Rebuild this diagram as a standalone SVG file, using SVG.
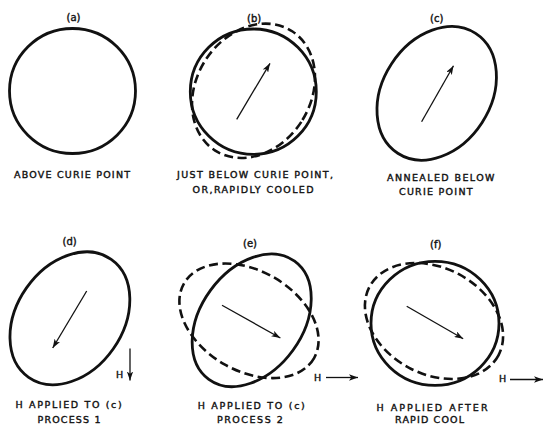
<svg xmlns="http://www.w3.org/2000/svg" width="544" height="424" viewBox="0 0 544 424">
<defs>
<marker id="ah" viewBox="0 0 10 7" refX="10" refY="3.5" markerWidth="9" markerHeight="6.3" markerUnits="userSpaceOnUse" orient="auto">
<path d="M0,0 L10,3.5 L0,7 L2.5,3.5 z" fill="#111"/>
</marker>
</defs>
<style>
.s{fill:none;stroke:#111;stroke-width:2.8}
.d{fill:none;stroke:#111;stroke-width:2.6;stroke-dasharray:9 4.5}
.a{fill:none;stroke:#111;stroke-width:1.3;marker-end:url(#ah)}
text{font-family:"DejaVu Sans","Liberation Sans",sans-serif;font-size:9.5px;fill:#111;stroke:#111;stroke-width:0.4}
.lb{font-size:10px}
</style>
<rect width="544" height="424" fill="#fff"/>

<g id="panel-a">
<text class="lb" x="66.5" y="21">(a)</text>
<ellipse class="s" cx="72.5" cy="91" rx="63" ry="62.5"/>
<text x="14" y="177.5" textLength="116" lengthAdjust="spacing">ABOVE CURIE POINT</text>
</g>

<g id="panel-b">
<text class="lb" x="247" y="21.5">(b)</text>
<ellipse class="s" cx="253.3" cy="91.7" rx="63" ry="62.7"/>
<ellipse class="d" cx="253.5" cy="90.8" rx="57" ry="71" transform="rotate(33 253.5 90.8)"/>
<line class="a" x1="236.7" y1="119.3" x2="270" y2="63.3"/>
<text x="177" y="178" textLength="156" lengthAdjust="spacing">JUST BELOW CURIE POINT,</text>
<text x="192.6" y="193.2" textLength="121" lengthAdjust="spacing">OR,RAPIDLY COOLED</text>
</g>

<g id="panel-c">
<text class="lb" x="430" y="22">(c)</text>
<ellipse class="s" cx="436.7" cy="93.3" rx="54" ry="71.5" transform="rotate(33 436.7 93.3)"/>
<line class="a" x1="421.6" y1="121.7" x2="453.5" y2="65.7"/>
<text x="387" y="180.5" textLength="107.5" lengthAdjust="spacing">ANNEALED BELOW</text>
<text x="399" y="194.5" textLength="73.6" lengthAdjust="spacing">CURIE POINT</text>
</g>

<g id="panel-d">
<text class="lb" x="62.5" y="245">(d)</text>
<ellipse class="s" cx="69.9" cy="318.3" rx="53" ry="72" transform="rotate(35 69.9 318.3)"/>
<line class="a" x1="86.7" y1="291" x2="52.7" y2="348"/>
<text x="116" y="378">H</text>
<line class="a" x1="130" y1="348.5" x2="130" y2="380.5"/>
<text x="15.6" y="408.3" textLength="106" lengthAdjust="spacing">H APPLIED TO (c)</text>
<text x="37.5" y="422.5" textLength="63" lengthAdjust="spacing">PROCESS 1</text>
</g>

<g id="panel-e">
<text class="lb" x="243" y="247">(e)</text>
<ellipse class="s" cx="251.7" cy="320.3" rx="51" ry="73" transform="rotate(36 251.7 320.3)"/>
<ellipse class="d" cx="249" cy="320.8" rx="75" ry="50" transform="rotate(30 249 320.8)"/>
<line class="a" x1="222" y1="305.3" x2="280.4" y2="338"/>
<text x="314" y="380.5">H</text>
<line class="a" x1="326" y1="377.5" x2="358" y2="377.5"/>
<text x="197.8" y="409.3" textLength="107" lengthAdjust="spacing">H APPLIED TO (c)</text>
<text x="216.9" y="423.3" textLength="66" lengthAdjust="spacing">PROCESS 2</text>
</g>

<g id="panel-f">
<text class="lb" x="430" y="248">(f)</text>
<ellipse class="s" cx="435" cy="323.3" rx="64" ry="62"/>
<ellipse class="d" cx="434" cy="321" rx="73" ry="53" transform="rotate(28 434 321)"/>
<line class="a" x1="406.7" y1="306.3" x2="463.2" y2="338.7"/>
<text x="499" y="382">H</text>
<line class="a" x1="510" y1="379.5" x2="543" y2="379.5"/>
<text x="376.5" y="411" textLength="111" lengthAdjust="spacing">H APPLIED AFTER</text>
<text x="395" y="423.4" textLength="69" lengthAdjust="spacing">RAPID COOL</text>
</g>
</svg>
